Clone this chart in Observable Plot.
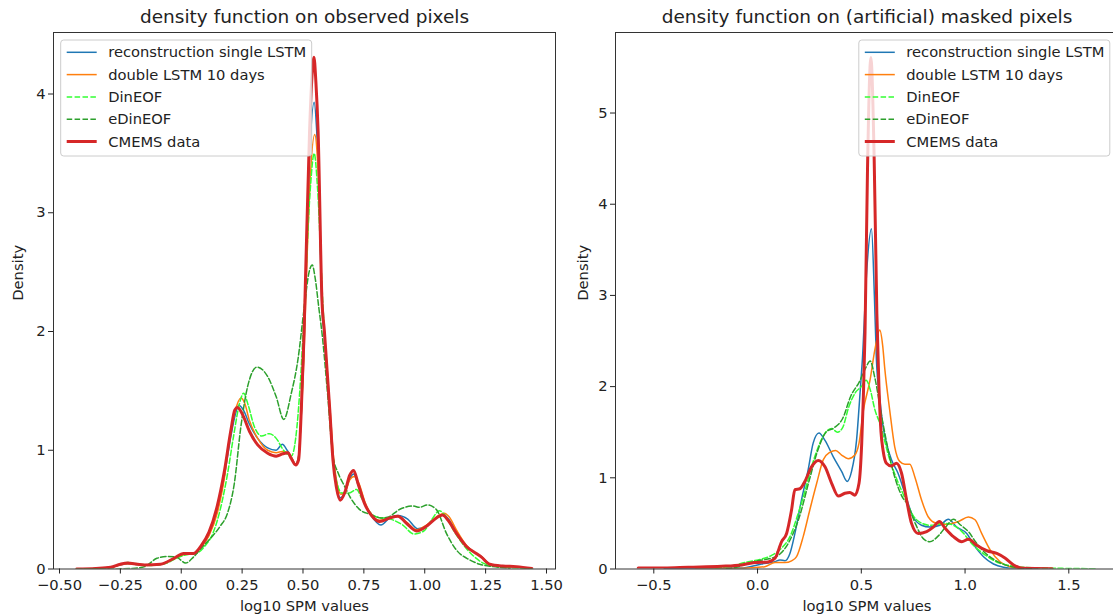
<!DOCTYPE html>
<html><head><meta charset="utf-8">
<script src="https://cdn.jsdelivr.net/npm/d3@7"></script>
<script src="https://cdn.jsdelivr.net/npm/@observablehq/plot@0.6"></script>
<style>
html,body{margin:0;padding:0;background:#fff;overflow:hidden;width:1113px;height:616px;}
#wrap{position:relative;width:1113px;height:616px;overflow:hidden;font-family:"DejaVu Sans",sans-serif;}
.panel{position:absolute;top:0;}
#legend{position:absolute;top:0;left:0;}
</style></head><body><div id="wrap"></div><script>
// ---------- data ----------
const seriesNames = ["reconstruction single LSTM", "double LSTM 10 days", "DinEOF", "eDinEOF", "CMEMS data"];
const titles = ["density function on observed pixels", "density function on (artificial) masked pixels"];
const xLabel = "log10 SPM values";
const yLabel = "Density";
const xTicksObserved = [-0.5, -0.25, 0, 0.25, 0.5, 0.75, 1.0, 1.25, 1.5];
const yTicksObserved = [0, 1, 2, 3, 4];
const xTicksMasked = [-0.5, 0, 0.5, 1.0, 1.5];
const yTicksMasked = [0, 1, 2, 3, 4, 5];

// observed pixels: [log10 SPM, density]
const obsSingleLSTM = [[-0.43,0],[-0.35,0.005],[-0.29,0.014],[-0.25,0.035],[-0.22,0.045],[-0.18,0.038],[-0.15,0.032],[-0.085,0.04],[-0.03,0.09],[0.01,0.125],[0.05,0.13],[0.08,0.18],[0.114,0.29],[0.149,0.5],[0.176,0.77],[0.204,1.12],[0.222,1.3],[0.236,1.38],[0.255,1.34],[0.28,1.22],[0.314,1.1],[0.355,1.02],[0.39,1.0],[0.415,1.05],[0.435,1.0],[0.455,0.93],[0.47,0.88],[0.482,0.95],[0.493,1.3],[0.503,1.8],[0.509,2.2],[0.528,3.5],[0.546,3.93],[0.556,3.7],[0.563,3.4],[0.578,2.2],[0.588,1.95],[0.596,1.72],[0.61,1.32],[0.623,0.95],[0.637,0.72],[0.653,0.6],[0.671,0.64],[0.692,0.76],[0.708,0.8],[0.726,0.71],[0.753,0.55],[0.78,0.45],[0.82,0.37],[0.856,0.43],[0.89,0.45],[0.93,0.42],[0.97,0.34],[1.007,0.36],[1.048,0.43],[1.075,0.46],[1.098,0.42],[1.13,0.31],[1.171,0.19],[1.212,0.13],[1.235,0.1],[1.267,0.04],[1.32,0.025],[1.38,0.015],[1.44,0.004]];
const obsDoubleLSTM = [[-0.43,0],[-0.35,0.005],[-0.29,0.014],[-0.25,0.035],[-0.22,0.045],[-0.18,0.038],[-0.15,0.032],[-0.085,0.04],[-0.03,0.085],[0.01,0.12],[0.05,0.13],[0.08,0.18],[0.114,0.28],[0.149,0.48],[0.176,0.75],[0.2,1.12],[0.22,1.32],[0.245,1.44],[0.26,1.4],[0.28,1.25],[0.314,1.1],[0.355,1.0],[0.39,0.98],[0.415,0.99],[0.44,0.98],[0.455,0.93],[0.47,0.88],[0.482,0.95],[0.493,1.3],[0.504,1.8],[0.51,2.2],[0.53,3.3],[0.548,3.66],[0.558,3.5],[0.565,3.2],[0.58,2.2],[0.59,1.95],[0.598,1.72],[0.612,1.32],[0.625,0.95],[0.64,0.72],[0.655,0.63],[0.675,0.66],[0.692,0.75],[0.71,0.78],[0.73,0.72],[0.755,0.56],[0.78,0.46],[0.815,0.41],[0.856,0.43],[0.89,0.445],[0.925,0.395],[0.966,0.33],[1.007,0.37],[1.05,0.44],[1.08,0.47],[1.1,0.44],[1.13,0.33],[1.171,0.2],[1.212,0.13],[1.235,0.1],[1.267,0.04],[1.32,0.025],[1.38,0.015],[1.44,0.004]];
const obsDinEOF = [[-0.43,0],[-0.3,0.01],[-0.25,0.04],[-0.22,0.055],[-0.18,0.04],[-0.12,0.03],[-0.06,0.05],[-0.02,0.09],[0.02,0.12],[0.06,0.13],[0.1,0.2],[0.13,0.3],[0.16,0.5],[0.19,0.8],[0.215,1.12],[0.24,1.4],[0.256,1.48],[0.275,1.38],[0.3,1.2],[0.33,1.12],[0.362,1.14],[0.39,1.1],[0.42,1.0],[0.452,0.95],[0.47,1.1],[0.49,1.6],[0.51,2.4],[0.53,3.2],[0.546,3.5],[0.56,3.2],[0.58,2.3],[0.6,1.6],[0.62,1.0],[0.64,0.72],[0.66,0.64],[0.69,0.64],[0.72,0.67],[0.74,0.6],[0.77,0.49],[0.8,0.44],[0.86,0.42],[0.91,0.37],[0.955,0.295],[0.996,0.32],[1.03,0.42],[1.06,0.49],[1.08,0.46],[1.12,0.32],[1.16,0.2],[1.2,0.11],[1.24,0.05],[1.3,0.02],[1.44,0.003]];
const obsEDinEOF = [[-0.3,0],[-0.2,0.005],[-0.15,0.02],[-0.1,0.09],[-0.06,0.105],[-0.02,0.1],[0.018,0.05],[0.05,0.1],[0.08,0.17],[0.121,0.26],[0.16,0.36],[0.19,0.47],[0.218,0.72],[0.245,1.2],[0.273,1.54],[0.311,1.7],[0.355,1.62],[0.39,1.45],[0.421,1.26],[0.452,1.48],[0.479,1.76],[0.505,2.2],[0.525,2.5],[0.538,2.56],[0.55,2.45],[0.565,2.2],[0.579,1.97],[0.6,1.5],[0.623,0.95],[0.644,0.81],[0.67,0.7],[0.695,0.6],[0.733,0.5],[0.777,0.46],[0.82,0.43],[0.846,0.435],[0.9,0.505],[0.952,0.53],[0.979,0.52],[1.01,0.54],[1.048,0.5],[1.089,0.3],[1.13,0.16],[1.185,0.076],[1.226,0.04],[1.28,0.02],[1.35,0.005]];
const obsCMEMS = [[-0.43,0],[-0.35,0.005],[-0.29,0.014],[-0.25,0.04],[-0.22,0.05],[-0.18,0.04],[-0.15,0.034],[-0.085,0.04],[-0.03,0.09],[0.01,0.13],[0.05,0.13],[0.08,0.19],[0.114,0.31],[0.149,0.54],[0.176,0.81],[0.204,1.17],[0.22,1.34],[0.231,1.36],[0.252,1.3],[0.28,1.16],[0.314,1.045],[0.355,0.975],[0.39,0.95],[0.417,0.97],[0.438,0.98],[0.452,0.93],[0.47,0.876],[0.482,0.92],[0.493,1.34],[0.503,1.9],[0.508,2.26],[0.527,3.69],[0.537,4.15],[0.545,4.31],[0.553,4.1],[0.562,3.69],[0.578,2.26],[0.588,2.0],[0.596,1.76],[0.61,1.34],[0.623,0.92],[0.637,0.69],[0.653,0.58],[0.671,0.64],[0.692,0.79],[0.708,0.83],[0.726,0.72],[0.753,0.55],[0.78,0.455],[0.815,0.4],[0.856,0.43],[0.89,0.445],[0.925,0.385],[0.966,0.32],[1.007,0.36],[1.048,0.43],[1.073,0.455],[1.096,0.41],[1.13,0.3],[1.171,0.19],[1.212,0.13],[1.233,0.1],[1.267,0.04],[1.32,0.025],[1.377,0.02],[1.44,0.005]];

// masked pixels
const mskSingleLSTM = [[-0.45,0.003],[-0.2,0.005],[-0.08,0.01],[0.02,0.055],[0.084,0.08],[0.108,0.1],[0.132,0.09],[0.156,0.17],[0.18,0.39],[0.212,0.76],[0.244,1.09],[0.268,1.38],[0.296,1.49],[0.325,1.41],[0.365,1.23],[0.405,1.07],[0.432,0.96],[0.453,1.07],[0.477,1.41],[0.494,1.93],[0.505,2.29],[0.527,3.3],[0.549,3.73],[0.563,3.0],[0.573,2.29],[0.59,1.85],[0.605,1.56],[0.621,1.38],[0.645,1.2],[0.677,1.05],[0.71,0.83],[0.75,0.57],[0.79,0.48],[0.83,0.46],[0.879,0.48],[0.919,0.545],[0.96,0.46],[1.008,0.39],[1.048,0.245],[1.089,0.135],[1.137,0.055],[1.185,0.02],[1.25,0.005],[1.35,0.002]];
const mskDoubleLSTM = [[-0.3,0],[-0.1,0.005],[0.035,0.025],[0.084,0.07],[0.132,0.07],[0.164,0.09],[0.188,0.135],[0.22,0.355],[0.252,0.65],[0.285,0.94],[0.317,1.2],[0.349,1.28],[0.376,1.3],[0.405,1.25],[0.437,1.21],[0.469,1.25],[0.489,1.38],[0.51,1.74],[0.542,2.07],[0.565,2.4],[0.589,2.62],[0.603,2.45],[0.613,2.2],[0.637,1.74],[0.661,1.34],[0.685,1.18],[0.71,1.15],[0.734,1.15],[0.758,1.01],[0.79,0.76],[0.823,0.57],[0.863,0.5],[0.911,0.49],[0.968,0.52],[1.016,0.57],[1.048,0.54],[1.08,0.39],[1.121,0.21],[1.169,0.08],[1.218,0.025],[1.27,0.005]];
const mskDinEOF = [[-0.2,0.01],[-0.14,0.025],[-0.045,0.08],[0.003,0.1],[0.068,0.15],[0.116,0.23],[0.156,0.355],[0.196,0.61],[0.228,0.85],[0.26,1.12],[0.293,1.34],[0.325,1.49],[0.357,1.54],[0.385,1.5],[0.41,1.55],[0.44,1.78],[0.47,1.93],[0.5,2.0],[0.523,2.07],[0.545,1.95],[0.565,1.75],[0.589,1.6],[0.637,1.2],[0.7,0.83],[0.766,0.54],[0.83,0.48],[0.91,0.5],[0.976,0.43],[1.04,0.26],[1.1,0.15],[1.15,0.08],[1.2,0.045],[1.27,0.02],[1.4,0.01],[1.5,0.006],[1.63,0.003]];
const mskEDinEOF = [[-0.15,0.005],[-0.1,0.02],[-0.05,0.06],[0.0,0.09],[0.05,0.11],[0.1,0.15],[0.15,0.29],[0.2,0.56],[0.25,0.98],[0.29,1.3],[0.33,1.5],[0.37,1.55],[0.41,1.65],[0.45,1.9],[0.49,2.05],[0.52,2.2],[0.543,2.28],[0.565,2.1],[0.6,1.65],[0.65,1.1],[0.7,0.78],[0.72,0.72],[0.76,0.5],[0.8,0.33],[0.83,0.3],[0.87,0.36],[0.91,0.47],[0.944,0.545],[0.98,0.48],[1.02,0.4],[1.05,0.3],[1.1,0.17],[1.15,0.09],[1.2,0.04],[1.25,0.015],[1.32,0.005]];
const mskCMEMS = [[-0.575,0.01],[-0.45,0.012],[-0.334,0.02],[-0.174,0.03],[-0.077,0.045],[-0.013,0.07],[0.051,0.077],[0.084,0.117],[0.116,0.3],[0.14,0.39],[0.164,0.65],[0.18,0.87],[0.204,0.88],[0.228,0.96],[0.26,1.12],[0.293,1.19],[0.325,1.12],[0.357,0.94],[0.389,0.8],[0.421,0.83],[0.445,0.84],[0.469,0.81],[0.489,0.94],[0.502,1.38],[0.51,1.9],[0.518,2.6],[0.53,4.4],[0.546,5.61],[0.562,4.5],[0.575,2.8],[0.585,2.0],[0.595,1.5],[0.605,1.3],[0.621,1.16],[0.645,1.13],[0.669,1.16],[0.694,1.05],[0.718,0.76],[0.742,0.5],[0.774,0.39],[0.815,0.41],[0.847,0.46],[0.876,0.52],[0.903,0.45],[0.944,0.355],[0.984,0.3],[1.016,0.325],[1.056,0.26],[1.105,0.2],[1.153,0.17],[1.194,0.117],[1.234,0.044],[1.282,0.007],[1.42,0.004]];

const observedSeries = [obsSingleLSTM, obsDoubleLSTM, obsDinEOF, obsEDinEOF, obsCMEMS];
const maskedSeries = [mskSingleLSTM, mskDoubleLSTM, mskDinEOF, mskEDinEOF, mskCMEMS];

// ---------- styles ----------
const styles = [
  {stroke: "#1f77b4", width: 1.5, dash: null},
  {stroke: "#ff7f0e", width: 1.5, dash: null},
  {stroke: "#33ff33", width: 1.5, dash: "5.5,2.4"},
  {stroke: "#2ca02c", width: 1.5, dash: "5.5,2.4"},
  {stroke: "#d62728", width: 3, dash: null}
];
const FONT = "DejaVu Sans";
const TICK_FS = 14.7, LABEL_FS = 14.7, TITLE_FS = 18.5, LEGEND_FS = 14.7;

function panel(seriesList, cfg) {
  const marks = [];
  seriesList.forEach((s, i) => {
    const st = styles[i];
    marks.push(Plot.line(s, {
      x: d => d[0], y: d => d[1], stroke: st.stroke, strokeWidth: st.width,
      strokeDasharray: st.dash, curve: "monotone-x", clip: true
    }));
  });
  marks.push(Plot.frame({stroke: "#333", strokeWidth: 1}));
  marks.push(Plot.axisX({ticks: cfg.xTicks, tickFormat: d3.format(cfg.xFmt), tickSize: 5, tickPadding: 6, label: null, fontSize: TICK_FS}));
  marks.push(Plot.axisY({ticks: cfg.yTicks, tickFormat: d3.format("d"), tickSize: 5, tickPadding: 3, label: null, fontSize: TICK_FS}));
  marks.push(Plot.text([cfg.title], {frameAnchor: "top", dy: -15, fontSize: TITLE_FS, lineAnchor: "middle", fill: "#222"}));
  marks.push(Plot.text([xLabel], {frameAnchor: "bottom", dy: 37, fontSize: LABEL_FS, lineAnchor: "middle", fill: "#222"}));
  marks.push(Plot.text([yLabel], {frameAnchor: "left", dx: cfg.yLabelDx, rotate: -90, fontSize: LABEL_FS, lineAnchor: "middle", fill: "#222"}));
  return Plot.plot({
    width: cfg.width, height: 616,
    marginLeft: cfg.marginLeft, marginRight: cfg.marginRight, marginTop: 32, marginBottom: 47.5,
    x: {domain: cfg.xDomain},
    y: {domain: cfg.yDomain},
    style: {fontFamily: FONT, fontSize: TICK_FS + "px", color: "#222", background: "transparent", overflow: "visible"},
    marks
  });
}

const wrap = document.getElementById("wrap");
const left = panel(observedSeries, {
  width: 580, marginLeft: 53, marginRight: 25, xDomain: [-0.5246, 1.537], yDomain: [0, 4.518],
  xTicks: xTicksObserved, yTicks: yTicksObserved, xFmt: ".2f", title: titles[0], yLabelDx: -35
});
left.classList.add("panel"); left.style.left = "0px";
wrap.appendChild(left);

const right = panel(maskedSeries, {
  width: 540, marginLeft: 35, marginRight: 2, xDomain: [-0.6846, 1.7395], yDomain: [0, 5.883],
  xTicks: xTicksMasked, yTicks: yTicksMasked, xFmt: ".1f", title: titles[1], yLabelDx: -32
});
right.classList.add("panel"); right.style.left = "580px";
wrap.appendChild(right);

// ---------- legends ----------
const leg = d3.create("svg").attr("id", "legend").attr("width", 1113).attr("height", 616);
function legend(x0) {
  const g = leg.append("g").attr("transform", `translate(${x0},40)`);
  g.append("rect").attr("x", 0).attr("y", 0).attr("width", 251).attr("height", 116).attr("rx", 3)
    .attr("fill", "white").attr("fill-opacity", 0.8).attr("stroke", "#cccccc").attr("stroke-width", 1);
  seriesNames.forEach((name, i) => {
    const y = 12.3 + i * 22.3;
    const st = styles[i];
    g.append("line").attr("x1", 6).attr("x2", 36).attr("y1", y).attr("y2", y)
      .attr("stroke", st.stroke).attr("stroke-width", st.width)
      .attr("stroke-dasharray", st.dash);
    g.append("text").attr("x", 47.5).attr("y", y).attr("dy", "0.35em")
      .attr("font-family", FONT).attr("font-size", LEGEND_FS).attr("fill", "#222").text(name);
  });
}
legend(60.7);
legend(858.8);
wrap.appendChild(leg.node());
</script></body></html>
